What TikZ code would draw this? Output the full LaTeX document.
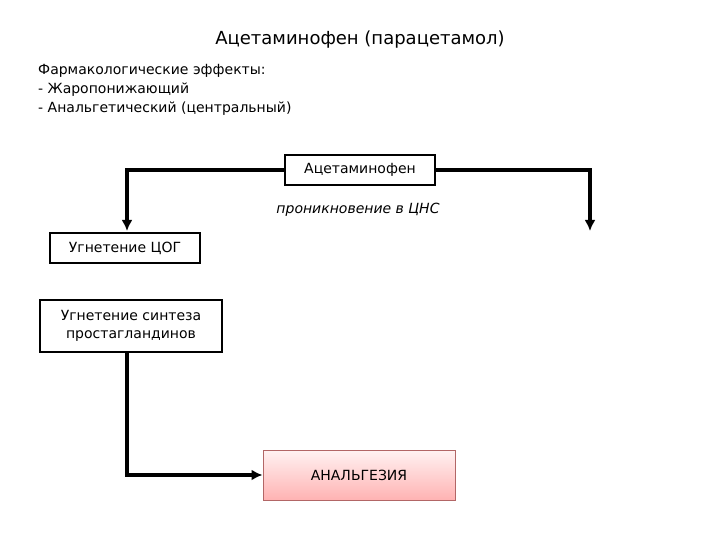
\documentclass[tikz,border=0pt]{standalone}
\usepackage{fontspec}
\setmainfont{DejaVu Sans}
\usetikzlibrary{arrows.meta}
\begin{document}
\begin{tikzpicture}[x=1pt,y=-1pt,
 bx/.style={draw,line width=1.5pt,fill=white,align=center,font=\fontsize{14}{16}\selectfont,inner sep=3pt},
 ln/.style={line width=3.5pt,-{Latex[length=11pt,width=11pt]}}]
\useasboundingbox (0,0) rectangle (720,540);
\node (t) at (360,40) {\fontsize{18}{21}\selectfont Ацетаминофен (парацетамол)};
\node[anchor=north west,align=left,font=\fontsize{14}{19}\selectfont,inner sep=0] (e) at (38,64) {Фармакологические эффекты:\\- Жаропонижающий\\- Анальгетический (центральный)};
\node[bx,minimum width=150pt,minimum height=30pt] (a) at (360,170) {Ацетаминофен};
\node[font=\fontsize{14}{16}\selectfont\itshape] (p) at (358,210) {проникновение в ЦНС};
\node[bx,minimum width=150pt,minimum height=30pt] (c) at (125,248) {Угнетение ЦОГ};
\node[bx,minimum width=182pt,minimum height=52pt,font=\fontsize{14}{18}\selectfont] (s) at (131,326) {Угнетение синтеза\\простагландинов};
\node[draw=red!50!black!60,line width=1pt,minimum width=192pt,minimum height=50pt,top color=red!5,bottom color=red!30,font=\fontsize{14}{16}\selectfont] (g) at (359,475) {АНАЛЬГЕЗИЯ};
\coordinate (l) at (127,231);
\coordinate (r) at (590,231);
\coordinate (sb) at (127,352);
\draw[ln] (a.west) -| (l);
\draw[ln] (a.east) -| (r);
\draw[ln] (sb) |- (g.west);
\end{tikzpicture}
\end{document}
